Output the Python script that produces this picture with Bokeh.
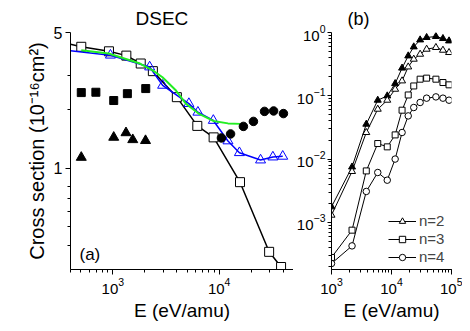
from bokeh.plotting import figure
from bokeh.layouts import row
from bokeh.models import FixedTicker, NumeralTickFormatter, Label, Title
from bokeh.embed import file_html
from bokeh.resources import INLINE

FONT = "Liberation Sans"

# ---------------- Panel (a) data ----------------
# black theory curve (open squares), line starts at the left edge
a_black_line_E = [400, 505, 920, 1340, 1830, 2380, 4000, 6230, 8870, 15700, 29500, 38200]
a_black_line_sig = [4.35, 4.22, 4.00, 3.80, 3.46, 3.16, 2.32, 1.65, 1.44, 0.846, 0.370, 0.309]
a_open_sq_E = [505, 920, 1340, 1830, 2380, 4000, 6230, 8870, 15700, 29500, 38200]
a_open_sq_sig = [4.22, 4.00, 3.80, 3.46, 3.16, 2.32, 1.65, 1.44, 0.846, 0.370, 0.309]

# blue curve with open triangles
a_blue_line_E = [400, 950, 2220, 2940, 5190, 6310, 8810, 12100, 15500, 24500, 32000, 39600]
a_blue_line_sig = [4.03, 3.82, 3.32, 2.67, 2.15, 1.94, 1.76, 1.38, 1.20, 1.10, 1.14, 1.15]
a_blue_tri_E = [950, 2220, 2940, 5190, 6310, 8810, 12100, 15500, 24500, 32000, 39600]
a_blue_tri_sig = [3.82, 3.32, 2.67, 2.15, 1.94, 1.76, 1.38, 1.20, 1.10, 1.14, 1.15]

# green curve
a_green_E = [505, 913, 1800, 2370, 2930, 3930, 4860, 6410, 8810, 12100, 15900]
a_green_sig = [4.05, 3.90, 3.46, 3.19, 2.94, 2.51, 2.15, 1.91, 1.75, 1.70, 1.69]

# filled squares
a_fsq_E = [505, 693, 1020, 1370, 2040]
a_fsq_sig = [2.45, 2.46, 2.23, 2.42, 2.57]

# filled triangles
a_ftri_E = [505, 1020, 1330, 1540, 2030]
a_ftri_sig = [1.135, 1.44, 1.52, 1.40, 1.385]

# filled circles
a_fcir_E = [10500, 12800, 16900, 21000, 26700, 32500, 40200]
a_fcir_sig = [1.43, 1.50, 1.64, 1.74, 1.96, 1.97, 1.91]

a_y_ticks = [1, 5]
a_y_minor = [0.4, 0.5, 0.6, 0.7, 0.8, 2, 3]

# ---------------- Panel (b) data ----------------
b_E = [1000, 2200, 3800, 5900, 8500, 11500, 15000, 19000, 23500, 30000, 38500, 55000, 72000, 91000]
b_filled = [1.76e-3, 7.5e-3, 0.0356, 0.0852, 0.0996, 0.156, 0.274, 0.427, 0.593, 0.764, 0.834, 0.865, 0.804, 0.737]
b_n2 = [1.30e-3, 6.37e-3, 0.0263, 0.0614, 0.0852, 0.127, 0.172, 0.286, 0.379, 0.454, 0.545, 0.580, 0.525, 0.483]
b_n3 = [2.79e-4, 7.53e-4, 6.5e-3, 0.0176, 0.0156, 0.0241, 0.0592, 0.103, 0.143, 0.183, 0.190, 0.183, 0.162, 0.149]
b_n4 = [2.24e-4, 4.25e-4, 3.08e-3, 6.14e-3, 4.64e-3, 0.0100, 0.0263, 0.0481, 0.0653, 0.0784, 0.0917, 0.0961, 0.0917, 0.0852]
b_y_ticks = [1e-3, 1e-2, 1e-1, 1]
b_y_minor = [m * 10.0 ** k for k in (-4, -3, -2, -1) for m in range(2, 10)]


def style(p, tick_size="15px"):
    p.grid.visible = False
    p.outline_line_color = None
    p.background_fill_color = "white"
    p.border_fill_color = "white"
    for ax in (p.xaxis[0], p.yaxis[0]):
        ax.axis_line_color = "black"
        ax.axis_line_width = 1
        ax.major_tick_line_color = "black"
        ax.minor_tick_line_color = "black"
        ax.major_tick_in = 0
        ax.major_tick_out = 5
        ax.minor_tick_in = 0
        ax.minor_tick_out = 3
        ax.major_label_standoff = 3
        ax.axis_label_standoff = 3
        ax.major_label_text_font = FONT
        ax.major_label_text_font_size = tick_size
        ax.major_label_text_color = "black"
        ax.axis_label_text_font = FONT
        ax.axis_label_text_font_size = "19px"
        ax.axis_label_text_font_style = "normal"
        ax.axis_label_text_color = "black"


# ---------------- Figure (a) ----------------
pa = figure(width=293, height=323, x_axis_type="log", y_axis_type="log",
            x_range=(400, 50000), y_range=(0.3, 5),
            output_backend="svg", toolbar_location=None,
            min_border_left=70, min_border_right=0, min_border_top=32, min_border_bottom=53)
style(pa)
pa.yaxis[0].ticker = FixedTicker(ticks=a_y_ticks, minor_ticks=a_y_minor)
pa.yaxis[0].formatter = NumeralTickFormatter(format="0")
pa.yaxis[0].major_label_text_font_size = "16px"
pa.xaxis.axis_label = "E (eV/amu)"
pa.yaxis.axis_label = "Cross section (10\u207b\u00b9\u2076cm\u00b2)"
pa.yaxis[0].axis_label_text_font_size = "20px"

pa.line(a_black_line_E, a_black_line_sig, line_color="black", line_width=1.5)
pa.scatter(a_open_sq_E, a_open_sq_sig, marker="square", size=9,
           fill_color="white", line_color="black", line_width=1)
pa.line(a_blue_line_E, a_blue_line_sig, line_color="#0000ff", line_width=1.5)
pa.scatter(a_blue_tri_E, a_blue_tri_sig, marker="triangle", size=10,
           fill_color=None, line_color="#0000ff", line_width=1)
pa.line(a_green_E, a_green_sig, line_color="#22ee22", line_width=2)
pa.scatter(a_fsq_E, a_fsq_sig, marker="square", size=8, fill_color="black", line_color="black")
pa.scatter(a_ftri_E, a_ftri_sig, marker="triangle", size=10, fill_color="black", line_color="black")
pa.scatter(a_fcir_E, a_fcir_sig, marker="circle", size=8.5, fill_color="black", line_color="black")

pa.add_layout(Label(x=9, y=6, x_units="screen", y_units="screen", text="(a)",
                    text_font=FONT, text_font_size="17px", text_color="black"))
ta = Title(text="DSEC", align="left", offset=65, standoff=8,
           text_font=FONT, text_font_size="19px", text_font_style="normal", text_color="black")
pa.add_layout(ta, "above")

# ---------------- Figure (b) ----------------
pb = figure(width=169, height=323, x_axis_type="log", y_axis_type="log",
            x_range=(1000, 1e5), y_range=(1.8e-4, 1),
            output_backend="svg", toolbar_location=None,
            min_border_left=34, min_border_right=11, min_border_top=32, min_border_bottom=53)
style(pb)
pb.yaxis[0].ticker = FixedTicker(ticks=b_y_ticks, minor_ticks=b_y_minor)
pb.yaxis[0].major_tick_out = 4
pb.yaxis[0].major_label_standoff = 2
pb.xaxis.axis_label = "E (eV/amu)"

pb.line(b_E, b_filled, line_color="black", line_width=1)
pb.scatter(b_E, b_filled, marker="triangle", size=7, fill_color="black", line_color="black")
pb.line(b_E, b_n2, line_color="black", line_width=1, legend_label="n=2")
pb.scatter(b_E, b_n2, marker="triangle", size=7, fill_color="white", line_color="black",
           legend_label="n=2")
pb.line(b_E, b_n3, line_color="black", line_width=1, legend_label="n=3")
pb.scatter(b_E, b_n3, marker="square", size=6, fill_color="white", line_color="black",
           legend_label="n=3")
pb.line(b_E, b_n4, line_color="black", line_width=1, legend_label="n=4")
pb.scatter(b_E, b_n4, marker="circle", size=6.5, fill_color="white", line_color="black",
           legend_label="n=4")

lg = pb.legend[0]
lg.location = (57, 4)
lg.margin = 0
lg.padding = 0
lg.spacing = 1
lg.glyph_width = 28
lg.glyph_height = 16
lg.label_height = 16
lg.label_standoff = 3
lg.label_text_font = FONT
lg.label_text_font_size = "15px"
lg.border_line_color = None
lg.background_fill_alpha = 0

tb = Title(text="(b)", align="left", offset=16, standoff=8,
           text_font=FONT, text_font_size="18px", text_font_style="normal", text_color="black")
pb.add_layout(tb, "above")

layout = row(pa, pb)
open("out.html", "w").write(file_html(layout, INLINE))
